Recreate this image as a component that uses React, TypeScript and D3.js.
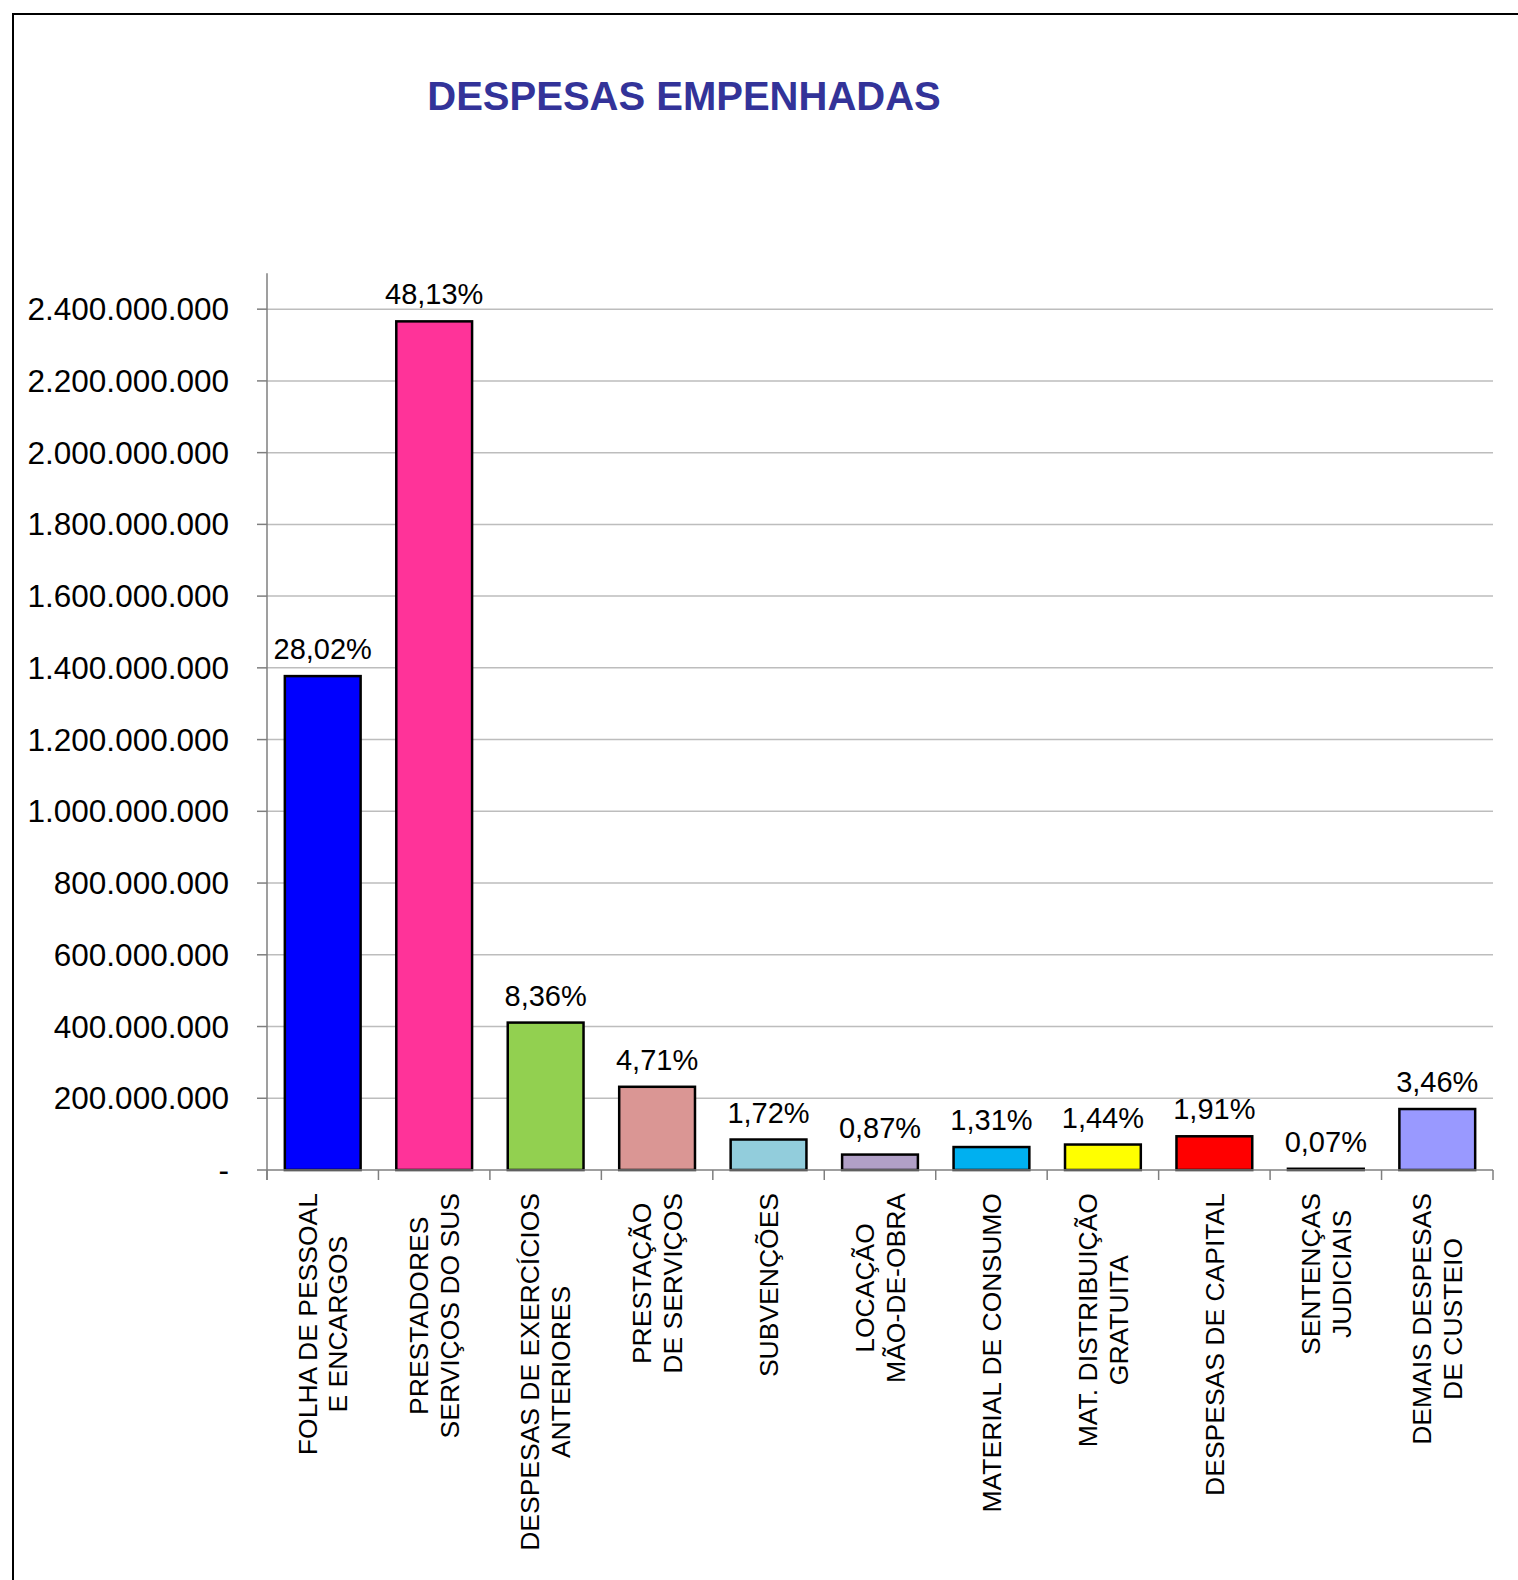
import React, { useRef, useEffect } from 'react';
import * as d3 from 'd3';

const categories = [
  ['FOLHA DE PESSOAL', 'E ENCARGOS'],
  ['PRESTADORES', 'SERVIÇOS DO SUS'],
  ['DESPESAS DE EXERCÍCIOS', 'ANTERIORES'],
  ['PRESTAÇÃO', 'DE SERVIÇOS'],
  ['SUBVENÇÕES'],
  ['LOCAÇÃO', 'MÃO-DE-OBRA'],
  ['MATERIAL DE CONSUMO'],
  ['MAT. DISTRIBUIÇÃO', 'GRATUITA'],
  ['DESPESAS DE CAPITAL'],
  ['SENTENÇAS', 'JUDICIAIS'],
  ['DEMAIS DESPESAS', 'DE CUSTEIO'],
];

const values = [
  1377000000, 2366000000, 411000000, 232000000, 85000000, 43000000,
  64000000, 71000000, 94000000, 3400000, 170000000,
];

const percents = [
  '28,02%', '48,13%', '8,36%', '4,71%', '1,72%', '0,87%',
  '1,31%', '1,44%', '1,91%', '0,07%', '3,46%',
];

const colors = [
  '#0000ff', '#ff3399', '#92d050', '#da9694', '#92cddc', '#b1a0c7',
  '#00b0f0', '#ffff00', '#ff0000', '#000000', '#9999ff',
];

const yTicks = [
  0, 200000000, 400000000, 600000000, 800000000, 1000000000, 1200000000,
  1400000000, 1600000000, 1800000000, 2000000000, 2200000000, 2400000000,
];

const FONT = '"Liberation Sans", Arial, sans-serif';

const App: React.FC = () => {
  const svgRef = useRef<SVGSVGElement>(null);
  const width = 1518;
  const height = 1580;

  useEffect(() => {
    if (!svgRef.current) return;
    const svg = d3.select(svgRef.current);
    svg.selectAll('*').remove();

    const left = 267;
    const right = 1493;
    const bottom = 1170;

    // border
    svg
      .append('rect')
      .attr('x', 13)
      .attr('y', 14)
      .attr('width', 1540)
      .attr('height', 1620)
      .attr('fill', 'white')
      .attr('stroke', '#000')
      .attr('stroke-width', 2);

    // title
    svg
      .append('text')
      .attr('x', 684)
      .attr('y', 110)
      .attr('text-anchor', 'middle')
      .attr('font-family', FONT)
      .attr('font-weight', 'bold')
      .attr('font-size', 40)
      .attr('fill', '#333399')
      .text('DESPESAS EMPENHADAS');

    const x = d3
      .scaleBand<number>()
      .domain(d3.range(categories.length))
      .range([left, right])
      .paddingInner(0.32)
      .paddingOuter(0.16);

    const y = d3.scaleLinear().domain([0, 2500000000]).range([bottom, 273.3]);

    // gridlines
    svg
      .append('g')
      .selectAll('line')
      .data(yTicks.filter((t) => t > 0))
      .enter()
      .append('line')
      .attr('x1', left)
      .attr('x2', right)
      .attr('y1', (d) => y(d))
      .attr('y2', (d) => y(d))
      .attr('stroke', '#bdbdbd')
      .attr('stroke-width', 1.5);

    // y axis
    const axisColor = '#7f7f7f';
    svg
      .append('line')
      .attr('x1', left)
      .attr('x2', left)
      .attr('y1', y(2500000000))
      .attr('y2', bottom + 10)
      .attr('stroke', axisColor)
      .attr('stroke-width', 1.5);

    const yt = svg.append('g');
    yt.selectAll('line')
      .data(yTicks)
      .enter()
      .append('line')
      .attr('x1', left - 10)
      .attr('x2', left)
      .attr('y1', (d) => y(d))
      .attr('y2', (d) => y(d))
      .attr('stroke', axisColor)
      .attr('stroke-width', 1.5);

    const fmt = (v: number) =>
      v === 0 ? '-' : d3.format(',')(v).replace(/,/g, '.');

    yt.selectAll('text')
      .data(yTicks)
      .enter()
      .append('text')
      .attr('x', 229)
      .attr('y', (d) => y(d))
      .attr('dy', '0.35em')
      .attr('text-anchor', 'end')
      .attr('font-family', FONT)
      .attr('font-size', 31.5)
      .attr('fill', '#000')
      .text((d) => fmt(d));

    // bars
    svg
      .append('g')
      .selectAll('rect')
      .data(values)
      .enter()
      .append('rect')
      .attr('x', (_, i) => x(i) as number)
      .attr('y', (d) => y(d))
      .attr('width', x.bandwidth())
      .attr('height', (d) => bottom - y(d))
      .attr('fill', (_, i) => colors[i])
      .attr('stroke', '#000')
      .attr('stroke-width', 2.5);

    // x axis
    svg
      .append('line')
      .attr('x1', left)
      .attr('x2', right)
      .attr('y1', bottom)
      .attr('y2', bottom)
      .attr('stroke', axisColor)
      .attr('stroke-width', 1.5);

    const step = x.step();
    svg
      .append('g')
      .selectAll('line')
      .data(d3.range(categories.length + 1))
      .enter()
      .append('line')
      .attr('x1', (d) => left + d * step)
      .attr('x2', (d) => left + d * step)
      .attr('y1', bottom)
      .attr('y2', bottom + 10)
      .attr('stroke', axisColor)
      .attr('stroke-width', 1.5);

    // percentage labels
    svg
      .append('g')
      .selectAll('text')
      .data(values)
      .enter()
      .append('text')
      .attr('x', (_, i) => (x(i) as number) + x.bandwidth() / 2)
      .attr('y', (d) => y(d) - 17)
      .attr('text-anchor', 'middle')
      .attr('font-family', FONT)
      .attr('font-size', 29)
      .attr('fill', '#000')
      .text((_, i) => percents[i]);

    // category labels (rotated)
    const lineH = 31;
    categories.forEach((lines, i) => {
      const cx = (x(i) as number) + x.bandwidth() / 2;
      const g = svg
        .append('g')
        .attr('transform', `translate(${cx},1193) rotate(-90)`);
      const texts = lines.map((t, j) =>
        g
          .append('text')
          .attr('y', (j - (lines.length - 1) / 2) * lineH)
          .attr('dy', '0.35em')
          .attr('text-anchor', 'middle')
          .attr('font-family', FONT)
          .attr('font-size', 26.5)
          .attr('fill', '#000')
          .text(t)
      );
      const maxLen = d3.max(texts, (t) =>
        (t.node() as SVGTextElement).getComputedTextLength()
      ) as number;
      texts.forEach((t) => t.attr('x', -maxLen / 2));
    });
  }, []);

  return (
    <div style={{ position: 'absolute', left: 0, top: 0 }}>
      <svg ref={svgRef} width={width} height={height} style={{ display: 'block' }} />
    </div>
  );
};

export default App;
